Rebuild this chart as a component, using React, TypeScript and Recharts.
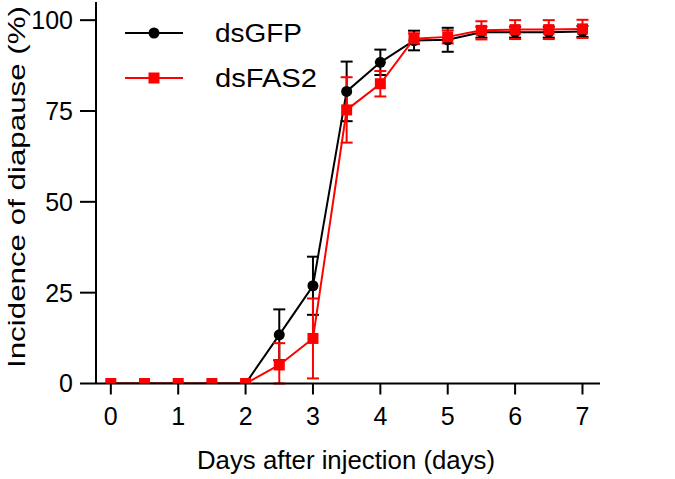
import React from "react";
import { ComposedChart, Line, XAxis, YAxis, ErrorBar, Label } from "recharts";

const days = [0, 0.5, 1, 1.5, 2, 2.5, 3, 3.5, 4, 4.5, 5, 5.5, 6, 6.5, 7];
const gfpMean = [0, 0, 0, 0, 0, 13.4, 26.9, 80.4, 88.4, 94.4, 94.6, 96.7, 96.7, 96.7, 96.9];
const gfpErr = [0, 0, 0, 0, 0, 7, 8, 8.2, 3.5, 2.7, 3.3, 1.5, 1.5, 1.5, 1.5];
const fasMean = [0, 0, 0, 0, 0, 5.1, 12.4, 75.3, 82.5, 94.9, 95.4, 97.2, 97.4, 97.4, 97.6];
const fasErr = [0, 0, 0, 0, 0, 6, 11, 9, 3.5, 1.5, 1.8, 2.5, 2.6, 2.6, 2.5];
const xTicks = [0, 1, 2, 3, 4, 5, 6, 7];
const yTicks = [0, 25, 50, 75, 100];
const seriesNames = ["dsGFP", "dsFAS2"];

const errPair = (m: number, e: number) => (e > 0 ? [Math.min(e, m), e] : null);

const data = days.map((d, i) => ({
  day: d,
  gfp: gfpMean[i],
  gfpE: errPair(gfpMean[i], gfpErr[i]),
  fas: fasMean[i],
  fasE: errPair(fasMean[i], fasErr[i]),
}));

const FONT = "'Liberation Sans', Arial, sans-serif";

const SquareDot = (props: any) => {
  const { cx, cy } = props;
  if (cx == null || cy == null) return null;
  return <rect x={cx - 5.5} y={cy - 5.5} width={11} height={11} fill="#ff0000" />;
};
const CircleDot = (props: any) => {
  const { cx, cy } = props;
  if (cx == null || cy == null) return null;
  return <circle cx={cx} cy={cy} r={5.5} fill="#000" />;
};

const LegendBox = () => (
  <svg width={360} height={110} style={{ position: "absolute", left: 0, top: 0, display: "block" }}>
    <line x1={125} y1={33} x2={183} y2={33} stroke="#000" strokeWidth={2} />
    <circle cx={154} cy={33} r={5.5} fill="#000" />
    <text x={215} y={42} fontSize={25} fontFamily={FONT} fill="#000" textLength={87} lengthAdjust="spacingAndGlyphs">{seriesNames[0]}</text>
    <line x1={125} y1={78} x2={183} y2={78} stroke="#ff0000" strokeWidth={2} />
    <rect x={148.5} y={72.5} width={11} height={11} fill="#ff0000" />
    <text x={215} y={87} fontSize={25} fontFamily={FONT} fill="#000" textLength={102} lengthAdjust="spacingAndGlyphs">{seriesNames[1]}</text>
  </svg>
);

export default function App() {
  return (
    <div style={{ position: "absolute", left: 0, top: 0, width: 675, height: 479, background: "#fff" }}>
      <ComposedChart width={675} height={479} data={data} margin={{ top: 2, right: 75, bottom: 0, left: 10 }}>
        <XAxis
          dataKey="day"
          type="number"
          domain={[-0.22, 7.26]}
          ticks={xTicks}
          allowDataOverflow
          axisLine={{ stroke: "#000", strokeWidth: 2 }}
          tickLine={{ stroke: "#000", strokeWidth: 2 }}
          tickSize={11}
          tick={{ fill: "#000", fontSize: 25, fontFamily: FONT }}
          tickMargin={13}
          height={95.5}
        >
          <Label
            content={() => (
              <text x={346} y={469} textAnchor="middle" fontSize={26} fontFamily={FONT} fill="#000" textLength={298} lengthAdjust="spacingAndGlyphs">
                Days after injection (days)
              </text>
            )}
          />
        </XAxis>
        <YAxis
          type="number"
          domain={[0, 105]}
          ticks={yTicks}
          allowDataOverflow
          axisLine={{ stroke: "#000", strokeWidth: 2 }}
          tickLine={{ stroke: "#000", strokeWidth: 2 }}
          tickSize={16}
          tickMargin={7}
          tick={{ fill: "#000", fontSize: 25, fontFamily: FONT }}
          width={86}
        >
          <Label
            content={() => (
              <text transform="translate(25,187) rotate(-90)" textAnchor="middle" fontSize={24} fontFamily={FONT} fill="#000" textLength={362} lengthAdjust="spacingAndGlyphs">
                Incidence of diapause (%)
              </text>
            )}
          />
        </YAxis>
        <Line
          dataKey="gfp"
          name={seriesNames[0]}
          stroke="#000"
          strokeWidth={2}
          dot={<CircleDot />}
          activeDot={false}
          isAnimationActive={false}
        >
          <ErrorBar dataKey="gfpE" direction="y" width={6} stroke="#000" strokeWidth={2} />
        </Line>
        <Line
          dataKey="fas"
          name={seriesNames[1]}
          stroke="#ff0000"
          strokeWidth={2}
          dot={<SquareDot />}
          activeDot={false}
          isAnimationActive={false}
        >
          <ErrorBar dataKey="fasE" direction="y" width={6} stroke="#ff0000" strokeWidth={2} />
        </Line>
      </ComposedChart>
      <LegendBox />
    </div>
  );
}
